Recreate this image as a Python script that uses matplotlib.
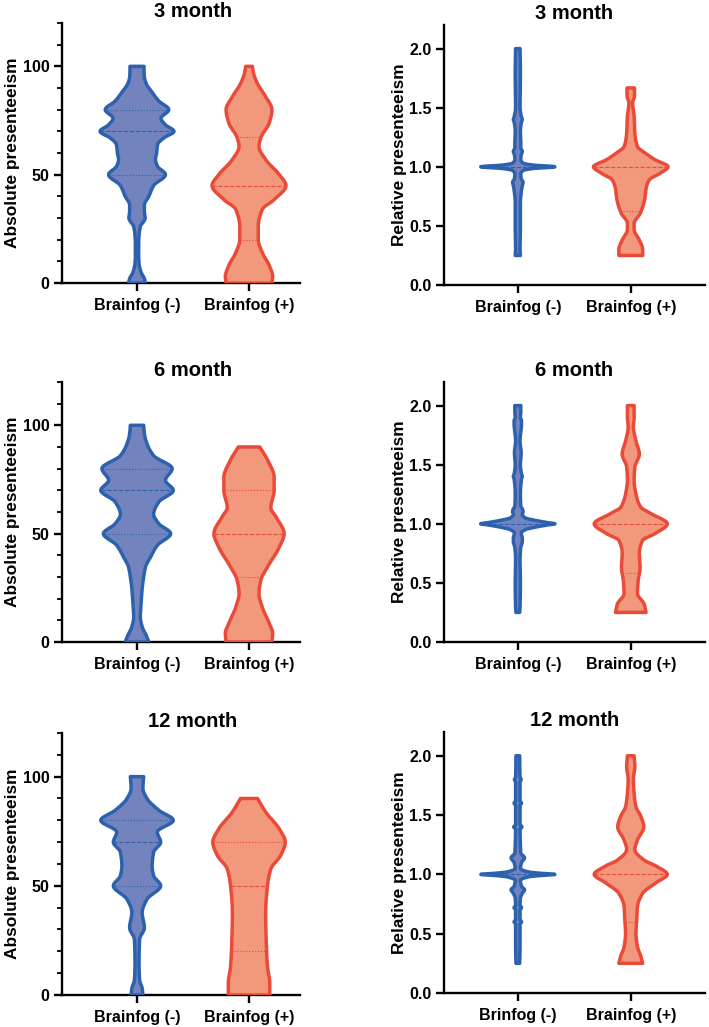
import matplotlib.pyplot as plt
import numpy as np

plt.rcParams['font.family'] = ['Liberation Sans', 'DejaVu Sans']
plt.rcParams['font.weight'] = 'bold'

titles = ["3 month", "6 month", "12 month"]
groups = ["Brainfog (-)", "Brainfog (+)"]
groups_12m_rel = ["Brinfog (-)", "Brainfog (+)"]

# violin outlines: y level and relative half width (1 = widest)
# absolute presenteeism
abs3_neg_y = [0, 2, 5, 9, 13, 18, 22, 26, 30, 33, 36, 40, 45, 50, 54, 57, 60, 64, 67, 70, 73, 76, 80, 84, 88, 92, 95, 98, 100]
abs3_neg_w = [0.23, 0.2, 0.11, 0.055, 0.045, 0.045, 0.055, 0.09, 0.22, 0.2, 0.2, 0.32, 0.45, 0.77, 0.55, 0.5, 0.53, 0.56, 0.73, 1.0, 0.77, 0.65, 0.86, 0.59, 0.41, 0.25, 0.2, 0.19, 0.19]
abs3_pos_y = [0, 3, 8, 14, 20, 26, 34, 38.5, 45, 50, 57, 63, 67, 74, 80, 86, 92, 97, 100]
abs3_pos_w = [0.62, 0.64, 0.55, 0.36, 0.25, 0.25, 0.36, 0.68, 1.0, 0.82, 0.45, 0.27, 0.32, 0.55, 0.62, 0.45, 0.23, 0.12, 0.09]
abs6_neg_y = [0, 3, 7, 11.5, 17.7, 24.6, 30, 34.6, 39, 44.6, 50, 54.6, 59, 64.6, 70, 74.6, 80, 86, 91.5, 96, 100]
abs6_neg_w = [0.32, 0.25, 0.14, 0.09, 0.11, 0.14, 0.18, 0.23, 0.36, 0.55, 0.91, 0.59, 0.45, 0.59, 0.98, 0.77, 0.95, 0.45, 0.27, 0.2, 0.18]
abs6_pos_y = [0, 4, 8.5, 16, 22.3, 28.5, 34.6, 43.8, 50, 57.7, 62, 70, 76, 84, 90]
abs6_pos_w = [0.62, 0.64, 0.55, 0.36, 0.27, 0.32, 0.5, 0.82, 0.95, 0.73, 0.59, 0.68, 0.68, 0.5, 0.29]
abs12_neg_y = [0, 3, 6.9, 14.6, 25.4, 30.8, 37.7, 43.8, 50, 54.6, 59, 65.4, 70, 74.6, 80, 84.6, 90, 94.6, 100]
abs12_neg_w = [0.16, 0.14, 0.07, 0.055, 0.07, 0.2, 0.14, 0.27, 0.64, 0.45, 0.41, 0.45, 0.64, 0.55, 0.98, 0.59, 0.27, 0.16, 0.18]
abs12_pos_y = [0, 5.4, 13, 22.3, 37.7, 50, 57.7, 64, 70, 76, 83.8, 90]
abs12_pos_w = [0.56, 0.56, 0.5, 0.47, 0.45, 0.5, 0.59, 0.86, 0.98, 0.82, 0.45, 0.23]

# relative presenteeism
rel3_neg_y = [0.25, 0.3, 0.5, 0.7, 0.78, 0.84, 0.87, 0.9, 0.94, 0.97, 0.985, 1.0, 1.015, 1.03, 1.06, 1.1, 1.13, 1.16, 1.2, 1.3, 1.38, 1.4, 1.42, 1.5, 1.8, 2.0]
rel3_neg_w = [0.07, 0.06, 0.07, 0.07, 0.09, 0.12, 0.14, 0.09, 0.08, 0.15, 0.4, 1.0, 0.4, 0.15, 0.08, 0.09, 0.12, 0.08, 0.08, 0.07, 0.1, 0.12, 0.1, 0.06, 0.07, 0.06]
rel3_pos_y = [0.25, 0.3, 0.38, 0.47, 0.52, 0.61, 0.72, 0.83, 0.89, 0.946, 1.0, 1.06, 1.12, 1.17, 1.285, 1.43, 1.54, 1.6, 1.667]
rel3_pos_w = [0.32, 0.32, 0.23, 0.09, 0.09, 0.26, 0.37, 0.42, 0.5, 0.79, 1.0, 0.65, 0.37, 0.18, 0.11, 0.09, 0.05, 0.1, 0.1]
rel6_neg_y = [0.25, 0.3, 0.5, 0.7, 0.8, 0.85, 0.88, 0.92, 0.95, 0.97, 0.99, 1.0, 1.01, 1.03, 1.05, 1.08, 1.1, 1.12, 1.15, 1.25, 1.38, 1.4, 1.42, 1.5, 1.6, 1.7, 1.85, 1.87, 1.9, 1.95, 2.0]
rel6_neg_w = [0.05, 0.06, 0.07, 0.06, 0.08, 0.12, 0.12, 0.09, 0.2, 0.45, 0.8, 1.0, 0.8, 0.45, 0.2, 0.12, 0.14, 0.13, 0.08, 0.07, 0.1, 0.12, 0.1, 0.07, 0.09, 0.06, 0.1, 0.1, 0.07, 0.08, 0.08]
rel6_pos_y = [0.25, 0.32, 0.41, 0.52, 0.63, 0.75, 0.86, 0.915, 1.0, 1.085, 1.14, 1.25, 1.37, 1.48, 1.59, 1.7, 1.82, 1.9, 2.0]
rel6_pos_w = [0.41, 0.36, 0.18, 0.2, 0.25, 0.23, 0.32, 0.64, 0.98, 0.55, 0.27, 0.14, 0.09, 0.11, 0.23, 0.14, 0.07, 0.09, 0.09]
rel12_neg_y = [0.25, 0.4, 0.58, 0.6, 0.62, 0.7, 0.72, 0.74, 0.8, 0.84, 0.87, 0.9, 0.95, 0.98, 0.99, 1.0, 1.01, 1.02, 1.05, 1.1, 1.14, 1.18, 1.25, 1.38, 1.4, 1.42, 1.58, 1.6, 1.62, 1.78, 1.8, 1.82, 2.0]
rel12_neg_w = [0.05, 0.06, 0.06, 0.1, 0.06, 0.06, 0.1, 0.06, 0.07, 0.12, 0.18, 0.1, 0.07, 0.3, 0.6, 1.0, 0.6, 0.3, 0.07, 0.1, 0.18, 0.08, 0.07, 0.06, 0.11, 0.06, 0.06, 0.1, 0.06, 0.06, 0.09, 0.06, 0.05]
rel12_pos_y = [0.25, 0.31, 0.39, 0.5, 0.62, 0.73, 0.84, 0.93, 1.0, 1.07, 1.12, 1.21, 1.29, 1.4, 1.49, 1.57, 1.685, 1.8, 1.91, 2.0]
rel12_pos_w = [0.32, 0.27, 0.18, 0.14, 0.16, 0.18, 0.32, 0.68, 0.98, 0.68, 0.36, 0.11, 0.18, 0.35, 0.27, 0.14, 0.09, 0.07, 0.11, 0.09]

# median and quartile lines (median first)
abs3_neg_q = [70, 50, 80]
abs3_pos_q = [45, 20, 67.5]
abs6_neg_q = [70, 50, 80]
abs6_pos_q = [50, 30, 70]
abs12_neg_q = [70, 50, 80]
abs12_pos_q = [50, 20, 70]
rel3_neg_q = [1.0]
rel3_pos_q = [1.0, 0.625]
rel6_neg_q = [1.0]
rel6_pos_q = [1.0, 0.58]
rel12_neg_q = [1.0]
rel12_pos_q = [1.0, 0.6]

BLUE_EDGE = "#2c62ad"
BLUE_FILL = "#7383be"
RED_EDGE = "#ea4a38"
RED_FILL = "#f2987c"


def pchip(x, y, xs):
    """monotone cubic interpolation so the outlines stay smooth"""
    x = np.asarray(x, float)
    y = np.asarray(y, float)
    h = np.diff(x)
    d = np.diff(y) / h
    m = np.zeros_like(y)
    m[0], m[-1] = d[0], d[-1]
    for i in range(1, len(x) - 1):
        if d[i - 1] * d[i] > 0:
            w1 = 2 * h[i] + h[i - 1]
            w2 = h[i] + 2 * h[i - 1]
            m[i] = (w1 + w2) / (w1 / d[i - 1] + w2 / d[i])
    idx = np.clip(np.searchsorted(x, xs) - 1, 0, len(x) - 2)
    t = (xs - x[idx]) / h[idx]
    h00 = 2 * t**3 - 3 * t**2 + 1
    h10 = t**3 - 2 * t**2 + t
    h01 = -2 * t**3 + 3 * t**2
    h11 = t**3 - t**2
    return h00 * y[idx] + h10 * h[idx] * m[idx] + h01 * y[idx + 1] + h11 * h[idx] * m[idx + 1]


def draw_violin(ax, pos, ys, ws, quart, edge, fill, scale=0.33):
    yy = np.linspace(ys[0], ys[-1], 800)
    ww = np.clip(pchip(ys, ws, yy), 0.02, None) * scale
    px = np.concatenate([pos + ww, (pos - ww)[::-1]])
    py = np.concatenate([yy, yy[::-1]])
    ax.fill(px, py, facecolor=fill, edgecolor=edge, linewidth=2.5,
            joinstyle='round', zorder=3)
    for k, q in enumerate(quart):
        half = np.interp(q, yy, ww)
        ax.plot([pos - half, pos + half], [q, q], color=edge,
                linestyle='--' if k == 0 else ':', linewidth=0.8, zorder=4)


def style_axes(ax, labels, ylabel, absolute):
    for side in ['top', 'right']:
        ax.spines[side].set_visible(False)
    for side in ['left', 'bottom']:
        ax.spines[side].set_linewidth(1.7)
    ax.set_xticks([0, 1])
    ax.set_xticklabels(labels, fontsize=11.5, fontweight='bold')
    ax.tick_params(axis='both', width=1.7, length=6, labelsize=11.5, pad=3)
    ax.tick_params(axis='x', pad=5)
    if absolute:
        ax.set_ylim(0, 120)
        ax.set_yticks([0, 50, 100])
        ax.set_yticks(np.arange(0, 121, 10), minor=True)
        ax.tick_params(axis='y', which='minor', width=1.3, length=3.6)
        ax.set_xlim(-0.67, 1.455)
        pad = 2
    else:
        ax.set_ylim(0, 2.2)
        ax.set_yticks([0, 0.5, 1.0, 1.5, 2.0])
        ax.set_yticklabels(["0.0", "0.5", "1.0", "1.5", "2.0"])
        ax.set_xlim(-0.655, 1.655)
        pad = 1
    for lab in ax.get_yticklabels():
        lab.set_fontweight('bold')
    ax.set_ylabel(ylabel, fontsize=12.4, fontweight='bold', labelpad=pad)


fig = plt.figure(figsize=(7.09, 10.27), dpi=100)

abs_data = [
    ((abs3_neg_y, abs3_neg_w, abs3_neg_q), (abs3_pos_y, abs3_pos_w, abs3_pos_q)),
    ((abs6_neg_y, abs6_neg_w, abs6_neg_q), (abs6_pos_y, abs6_pos_w, abs6_pos_q)),
    ((abs12_neg_y, abs12_neg_w, abs12_neg_q), (abs12_pos_y, abs12_pos_w, abs12_pos_q)),
]
rel_data = [
    ((rel3_neg_y, rel3_neg_w, rel3_neg_q), (rel3_pos_y, rel3_pos_w, rel3_pos_q)),
    ((rel6_neg_y, rel6_neg_w, rel6_neg_q), (rel6_pos_y, rel6_pos_w, rel6_pos_q)),
    ((rel12_neg_y, rel12_neg_w, rel12_neg_q), (rel12_pos_y, rel12_pos_w, rel12_pos_q)),
]

# axes boxes in figure fractions [left, bottom, width, height]
left_boxes = [[0.0874, 0.7244, 0.3357, 0.2532],
              [0.0874, 0.3749, 0.3357, 0.2532],
              [0.0874, 0.0312, 0.3357, 0.2551]]
right_boxes = [[0.626, 0.7225, 0.368, 0.2532],
               [0.626, 0.3749, 0.368, 0.2532],
               [0.626, 0.0331, 0.368, 0.2541]]

for row in range(3):
    ax = fig.add_axes(left_boxes[row])
    neg, pos = abs_data[row]
    draw_violin(ax, 0, *neg, BLUE_EDGE, BLUE_FILL)
    draw_violin(ax, 1, *pos, RED_EDGE, RED_FILL)
    style_axes(ax, groups, "Absolute presenteeism", True)
    # Prism centres these titles a bit right of the axis box
    ax.set_title(titles[row], fontsize=14.5, fontweight='bold', pad=4, x=0.55)

    ax = fig.add_axes(right_boxes[row])
    neg, pos = rel_data[row]
    draw_violin(ax, 0, *neg, BLUE_EDGE, BLUE_FILL)
    draw_violin(ax, 1, *pos, RED_EDGE, RED_FILL)
    style_axes(ax, groups_12m_rel if row == 2 else groups, "Relative presenteeism", False)
    ax.set_title(titles[row], fontsize=14.5, fontweight='bold', pad=4)

fig.savefig("out.png", dpi=100)
